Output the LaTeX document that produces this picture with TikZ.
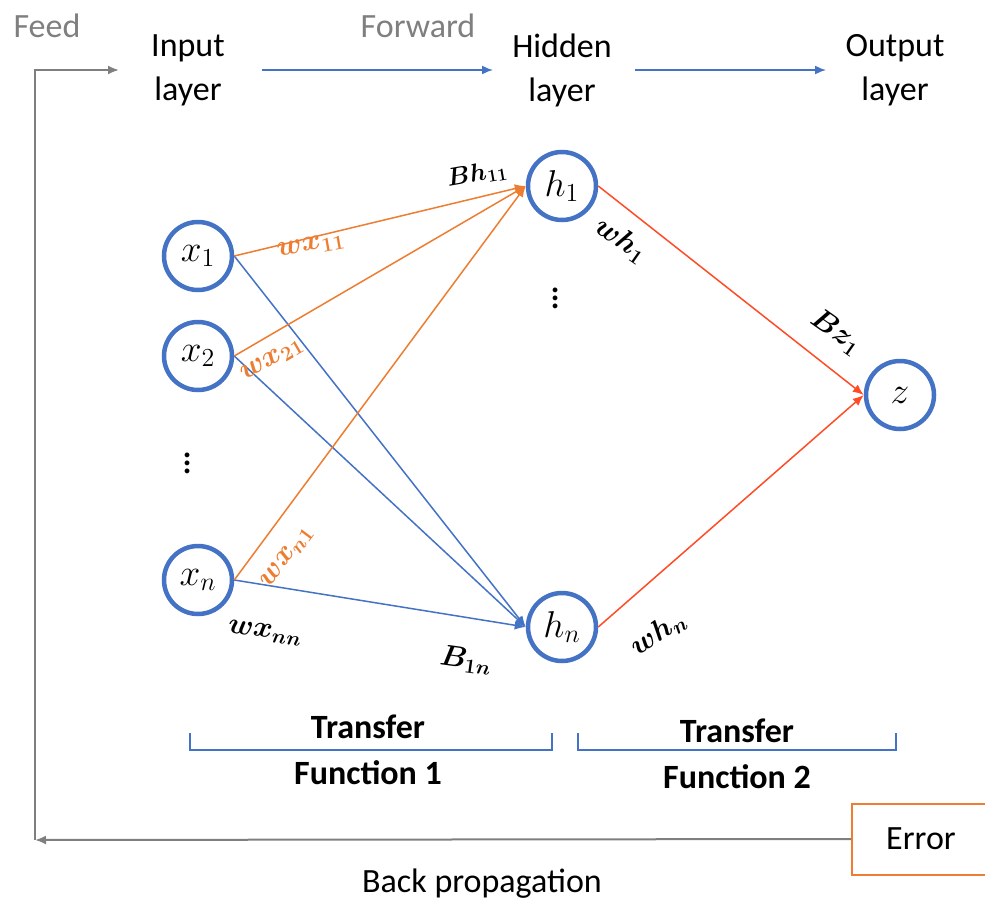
\documentclass[tikz,border=0pt]{standalone}
\usepackage{graphicx}
\usepackage{amsmath,bm}
\usepackage{fontspec}
\setmainfont{Carlito}
\usetikzlibrary{arrows.meta}
\definecolor{nnblue}{HTML}{4472C4}
\definecolor{nnorange}{HTML}{ED7D31}
\definecolor{nnred}{HTML}{FF4B26}
\definecolor{nngray}{HTML}{7F7F7F}
% math set at 20pt and enlarged
\newcommand{\nmath}[1]{\scalebox{1.8}{$#1$}}
\newcommand{\wmath}[1]{\scalebox{1.42}{$\bm{#1}$}}
\newcommand{\bmath}[1]{\scalebox{1.22}{$\bm{#1}$}}
\tikzset{
  neuron/.style={circle, draw=nnblue, line width=4.5pt, minimum size=68pt, inner sep=0pt, font=\fontsize{20}{20}\selectfont},
  layertext/.style={align=center, font=\fontsize{34}{44}\selectfont},
  graytext/.style={text=nngray, font=\fontsize{34}{40}\selectfont},
  boldtext/.style={align=center, font=\fontsize{34}{46}\selectfont\bfseries},
  wlabel/.style={font=\fontsize{20}{20}\selectfont, inner sep=0pt},
  tip/.style={-{Latex[length=11pt,width=9pt]}},
  fwd/.style={draw=nnblue, line width=1.6pt, tip},
  wire/.style={line width=1.5pt, tip},
  gline/.style={draw=nngray, line width=2pt},
}
\begin{document}
\begin{tikzpicture}[x=1pt, y=-1pt]
\useasboundingbox (0,0) rectangle (985,902);

% heading
\node[graytext] (feed) at (47,26) {Feed};
\node[graytext] (forward) at (418,26) {Forward};
\node[layertext] (inlayer) at (188,70) {Input\\layer};
\node[layertext] (hidlayer) at (562,70) {Hidden\\layer};
\node[layertext] (outlayer) at (895,70) {Output\\layer};
\coordinate (fwdA) at (262,70);
\coordinate (fwdB) at (493,70);
\coordinate (fwdC) at (635,70);
\coordinate (fwdD) at (826,70);
\draw[fwd] (fwdA) -- (fwdB);
\draw[fwd] (fwdC) -- (fwdD);

% neurons
\node[neuron] (x1) at (198,256) {\nmath{x_1}};
\node[neuron] (x2) at (198,356) {\nmath{x_2}};
\node[neuron] (xn) at (198,580) {\nmath{x_n}};
\node[neuron] (h1) at (562,186) {\nmath{h_1}};
\node[neuron] (hn) at (562,627) {\nmath{h_n}};
\node[neuron] (z) at (900,395) {\nmath{z}};
\node[font=\fontsize{20}{20}\selectfont, inner sep=0pt] (vin) at (188,457) {\scalebox{2}{$\vdots$}};
\node[font=\fontsize{20}{20}\selectfont, inner sep=0pt] (vhid) at (556,292) {\scalebox{2}{$\vdots$}};

% input to hidden
\draw[wire, nnblue] (x1.east) -- (hn.west);
\draw[wire, nnblue] (x2.east) -- (hn.west);
\draw[wire, nnblue] (xn.east) -- (hn.west);
\draw[wire, nnorange] (x1.east) -- (h1.west);
\draw[wire, nnorange] (x2.east) -- (h1.west);
\draw[wire, nnorange] (xn.east) -- (h1.west);

% hidden to output
\draw[wire, nnred] (h1.east) -- (z.west);
\draw[wire, nnred] (hn.east) -- (z.west);

% weights and biases
\node[wlabel, rotate=10] (bh11) at (477,174) {\bmath{B h_{11}}};
\node[wlabel, text=nnorange, rotate=10] (wx11) at (311,246) {\wmath{w x_{11}}};
\node[wlabel, text=nnorange, rotate=30] (wx21) at (272,360) {\wmath{w x_{21}}};
\node[wlabel, text=nnorange, rotate=53] (wxn1) at (287,557) {\wmath{w x_{n1}}};
\node[wlabel, rotate=-8] (wxnn) at (265,633) {\wmath{w x_{nn}}};
\node[wlabel, rotate=-8] (b1n) at (466,660) {\wmath{B_{1n}}};
\node[wlabel, rotate=-35] (wh1) at (621,240) {\wmath{w h_1}};
\node[wlabel, rotate=-35] (bz1) at (836,332) {\wmath{B z_1}};
\node[wlabel, rotate=33] (whn) at (658,633) {\wmath{w h_n}};

% transfer functions
\coordinate (brA1) at (190,733);
\coordinate (brA2) at (190,750);
\coordinate (brA3) at (552,750);
\coordinate (brA4) at (552,733);
\coordinate (brB1) at (578,733);
\coordinate (brB2) at (578,750);
\coordinate (brB3) at (896,750);
\coordinate (brB4) at (896,733);
\draw[nnblue, line width=1.2pt] (brA1) -- (brA2) -- (brA3) -- (brA4);
\draw[nnblue, line width=1.2pt] (brB1) -- (brB2) -- (brB3) -- (brB4);
\node[boldtext] (tf1) at (368,750) {Transfer\\Function 1};
\node[boldtext] (tf2) at (737,754) {Transfer\\Function 2};

% error feedback
\node[draw=nnorange, line width=2pt, minimum width=138pt, minimum height=71pt,
      font=\fontsize{34}{34}\selectfont] (err) at (921,839) {Error};
\coordinate (corner) at (35,840);
\coordinate (feedin) at (119,70);
\draw[gline, tip] (err.west) -- (corner);
\draw[gline, tip] (corner) |- (feedin);
\node[font=\fontsize{34}{34}\selectfont] (backprop) at (482,884) {Back propagation};
\end{tikzpicture}
\end{document}
